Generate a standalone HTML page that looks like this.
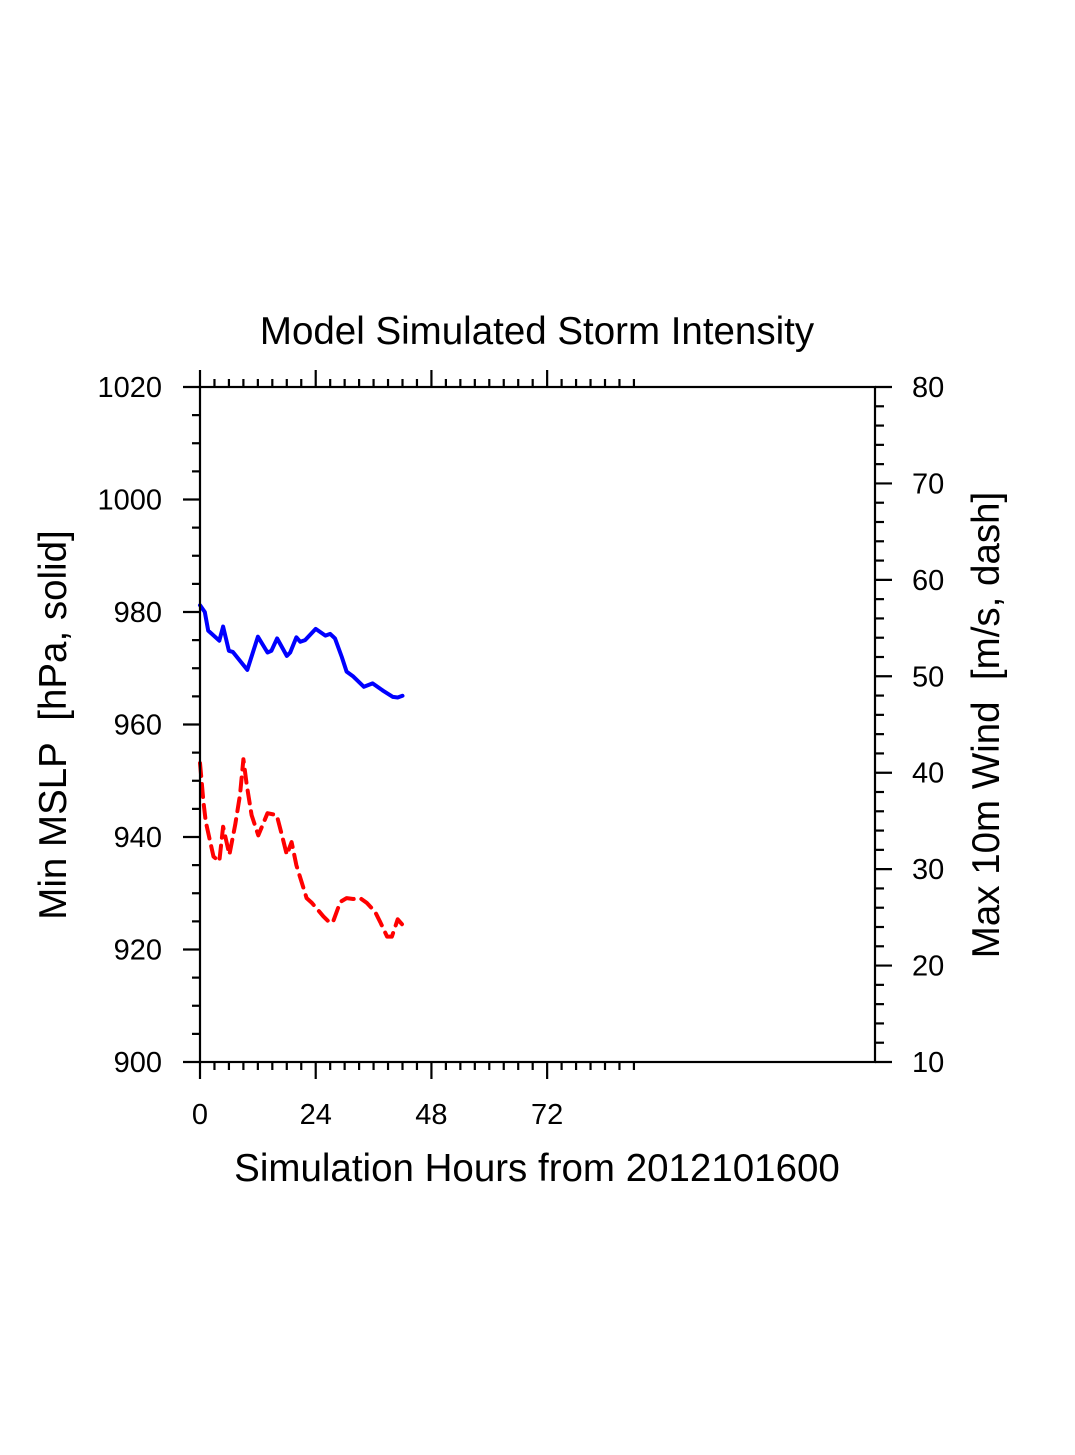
<!DOCTYPE html>
<html><head><meta charset="utf-8"><style>
html,body{margin:0;padding:0;background:#fff;}
svg text{font-family:"Liberation Sans",sans-serif;fill:#000;}
</style></head><body>
<svg id="chart" width="1075" height="1450" viewBox="0 0 1075 1450" xmlns="http://www.w3.org/2000/svg">
<text x="537" y="344" font-size="38.5" text-anchor="middle">Model Simulated Storm Intensity</text>
<text x="537" y="1181" font-size="38.5" text-anchor="middle">Simulation Hours from 2012101600</text>
<text transform="translate(66,725) rotate(-90)" font-size="38.5" text-anchor="middle">Min MSLP&#160; [hPa, solid]</text>
<text transform="translate(999,725) rotate(-90)" font-size="38.5" text-anchor="middle">Max 10m Wind&#160; [m/s, dash]</text>
<g id="axes"></g>
<g id="series"></g>
<rect x="200" y="387" width="675" height="675" fill="none" stroke="#000" stroke-width="2.2"/>
</svg>
<script>
const mslpHours = [0,1,1.7,4,4.8,6,6.8,9.8,12,14,14.8,16,18,18.7,20,20.8,21.8,24,26,27,28,29.4,30.4,31.7,34,35.8,38,40,41,42];
const mslpValues = [981.2,980.0,976.7,974.9,977.4,973.1,972.9,969.7,975.6,972.8,973.1,975.3,972.2,972.8,975.5,974.7,975.0,977.0,975.8,976.1,975.3,972.0,969.4,968.6,966.7,967.3,966.0,964.9,964.8,965.1];
const windHours = [0,0.3,0.7,1.2,2.8,4,4.8,6.1,7.3,8.3,9,9.7,10.7,12.1,14,15.9,17,18,19,20,22.1,23.2,25.6,27,27.7,29.1,30.4,31.8,33.2,34.6,36.3,37.4,38.8,39.8,41,42.2];
const windValues = [41.0,39.4,37.0,34.9,31.3,30.8,34.4,31.5,34.6,37.7,41.4,38.7,35.6,33.5,35.8,35.6,33.5,31.5,32.8,30.4,27.0,26.5,25.1,24.4,24.7,26.6,27.0,26.9,27.0,26.5,25.6,24.5,23.0,23.0,24.8,24.1];
const xTickLabels = ["0","24","48","72"];
const leftTickLabels = ["900","920","940","960","980","1000","1020"];
const rightTickLabels = ["10","20","30","40","50","60","70","80"];

const X0=200,X1=875,Y0=1062,Y1=387;
function xs(h){return X0+(h/140)*(X1-X0);}
function yl(p){return Y0-(p-900)/120*(Y0-Y1);}
function yr(w){return Y0-(w-10)/70*(Y0-Y1);}
const NS="http://www.w3.org/2000/svg";
const axes=document.getElementById('axes'), series=document.getElementById('series');
function line(x1,y1,x2,y2,name){const l=document.createElementNS(NS,'line');l.setAttribute('x1',x1);l.setAttribute('y1',y1);l.setAttribute('x2',x2);l.setAttribute('y2',y2);l.setAttribute('stroke','#000');l.setAttribute('stroke-width','2.2');


axes.appendChild(l);}
function text(x,y,s,anchor,name){const t=document.createElementNS(NS,'text');t.setAttribute('x',x);t.setAttribute('y',y);t.setAttribute('font-size','29');t.setAttribute('text-anchor',anchor);t.textContent=s;


axes.appendChild(t);}
for(let h=0;h<=90;h+=3){const x=xs(h);const major=h%24===0;const len=major?17:8;
line(x,Y1,x,Y1-len,'x-tick-top');line(x,Y0,x,Y0+len,'x-tick-bottom');}
xTickLabels.forEach(s=>text(xs(+s),1124,s,'middle','x-tick-label'));
for(let p=900;p<=1020;p+=5){const y=yl(p);const major=p%20===0;line(X0,y,X0-(major?17:8),y,'left-y-tick');}
leftTickLabels.forEach(s=>text(162,yl(+s)+10,s,'end','left-y-tick-label'));
for(let w=10;w<=80;w+=2){const y=yr(w);const major=w%10===0;line(X1,y,X1+(major?17:9),y,'right-y-tick');}
rightTickLabels.forEach(s=>text(912,yr(+s)+10,s,'start','right-y-tick-label'));
function path(hs,vs,fy,color,dash,name){const p=document.createElementNS(NS,'path');
p.setAttribute('d',hs.map((h,i)=>(i?'L':'M')+xs(h).toFixed(1)+','+fy(vs[i]).toFixed(1)).join(''));
p.setAttribute('fill','none');p.setAttribute('stroke',color);p.setAttribute('stroke-width','4');p.setAttribute('stroke-linejoin','round');p.setAttribute('stroke-linecap','round');
if(dash)p.setAttribute('stroke-dasharray',dash);


series.appendChild(p);}
path(mslpHours,mslpValues,yl,'#0000ff',null,'min-mslp-line');
path(windHours,windValues,yr,'#ff0000','13 8','max-wind-line');
</script>
</body></html>
